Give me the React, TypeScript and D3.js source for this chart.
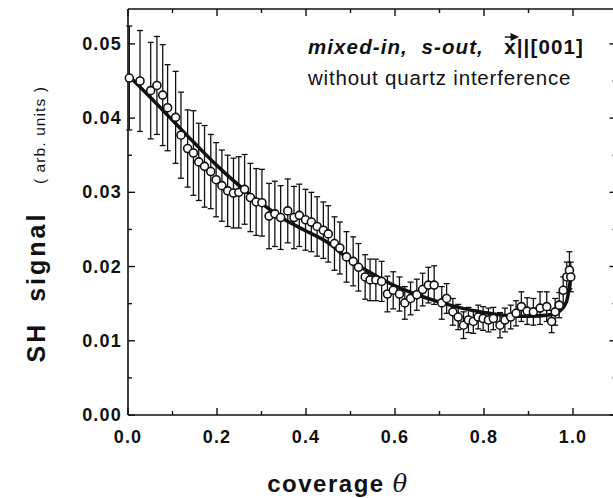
import React, { useLayoutEffect, useRef, useState } from "react";
import * as d3 from "d3";

// coverage θ of each measured point
const THETA = [
  0.003, 0.027, 0.051, 0.065, 0.078, 0.089, 0.107, 0.119, 0.134, 0.147,
  0.159, 0.172, 0.186, 0.198, 0.211, 0.224, 0.237, 0.249, 0.262, 0.275,
  0.288, 0.301, 0.317, 0.33, 0.343, 0.359, 0.373, 0.385, 0.399, 0.412,
  0.425, 0.439, 0.45, 0.464, 0.476, 0.491, 0.506, 0.518, 0.533, 0.544,
  0.557, 0.57, 0.583, 0.596, 0.61, 0.622, 0.635, 0.649, 0.662, 0.675,
  0.688, 0.705, 0.716, 0.73, 0.742, 0.754, 0.765, 0.776, 0.787, 0.798,
  0.81, 0.821, 0.836, 0.847, 0.86, 0.872, 0.884, 0.897, 0.911, 0.926,
  0.941, 0.952, 0.96, 0.969, 0.978, 0.986, 0.992, 0.995,
];
// SH signal (arb. units)
const SIGNAL = [
  0.0454, 0.045, 0.0437, 0.0444, 0.0431, 0.0414, 0.0401, 0.0377, 0.0359, 0.0353,
  0.0341, 0.0335, 0.0328, 0.0317, 0.0309, 0.0302, 0.0299, 0.03, 0.0304, 0.0293,
  0.0287, 0.0286, 0.0268, 0.0271, 0.0266, 0.0275, 0.0266, 0.0269, 0.0263, 0.026,
  0.0254, 0.0249, 0.0244, 0.0231, 0.0225, 0.0213, 0.0207, 0.0199, 0.0186, 0.0182,
  0.0182, 0.018, 0.0163, 0.0168, 0.0163, 0.0151, 0.0157, 0.0162, 0.0169, 0.0175,
  0.0175, 0.0151, 0.0157, 0.0139, 0.0132, 0.0121, 0.0128, 0.0126, 0.0132, 0.013,
  0.0128, 0.013, 0.0121, 0.0128, 0.0132, 0.0137, 0.0146, 0.014, 0.0139, 0.0144,
  0.0146, 0.0126, 0.0139, 0.0148, 0.0168, 0.0186, 0.0195, 0.0186,
];
// error bar half-lengths
const ERROR = [
  0.007, 0.0068, 0.0065, 0.0066, 0.0068, 0.0058, 0.0062, 0.0058, 0.0052, 0.0057,
  0.0052, 0.0055, 0.005, 0.005, 0.0048, 0.0048, 0.0047, 0.0048, 0.0047, 0.0046,
  0.0045, 0.0045, 0.0044, 0.0044, 0.0043, 0.0043, 0.0042, 0.0042, 0.0041, 0.004,
  0.004, 0.0038, 0.0038, 0.0036, 0.0035, 0.0034, 0.0033, 0.0032, 0.003, 0.0028,
  0.0028, 0.0027, 0.0024, 0.0025, 0.0023, 0.0022, 0.0022, 0.0021, 0.0022, 0.0024,
  0.0026, 0.0022, 0.002, 0.0018, 0.0017, 0.0018, 0.0017, 0.0016, 0.0016, 0.0016,
  0.0016, 0.0015, 0.0017, 0.0016, 0.0016, 0.0017, 0.002, 0.0018, 0.0018, 0.0022,
  0.002, 0.0015, 0.0018, 0.0017, 0.0018, 0.002, 0.0025, 0.002,
];
// fitted curve
const FIT_THETA = [0, 0.05, 0.1, 0.15, 0.2, 0.25, 0.3, 0.35, 0.4, 0.45, 0.5, 0.55, 0.6, 0.65, 0.7, 0.75, 0.8, 0.85, 0.9, 0.95, 0.97, 0.985, 0.995];
const FIT_SIGNAL = [0.0458, 0.0428, 0.0397, 0.0366, 0.0336, 0.0309, 0.0285, 0.0264, 0.0248, 0.0232, 0.0208, 0.019, 0.0174, 0.0162, 0.0152, 0.0144, 0.0138, 0.0134, 0.0133, 0.0135, 0.014, 0.0152, 0.0185];

const X_TICKS = [0, 0.2, 0.4, 0.6, 0.8, 1.0];
const X_TICK_LABELS = ["0.0", "0.2", "0.4", "0.6", "0.8", "1.0"];
const X_MINOR = [0.1, 0.3, 0.5, 0.7, 0.9];
const Y_TICKS = [0, 0.01, 0.02, 0.03, 0.04, 0.05];
const Y_TICK_LABELS = ["0.00", "0.01", "0.02", "0.03", "0.04", "0.05"];
const Y_MINOR = [0.005, 0.015, 0.025, 0.035, 0.045];

const W = 613;
const H = 498;
const L = 128;
const R = 617.5;
const T = 9;
const B = 415;
const FONT = "'Liberation Sans', Arial, Helvetica, sans-serif";

export default function App() {
  const x = d3.scaleLinear().domain([0, 1.1]).range([L, R]);
  const y = d3.scaleLinear().domain([0, 0.0547]).range([B, T]);
  const points = THETA.map((t, i) => ({ t, v: SIGNAL[i], e: ERROR[i] }));
  const fit = d3
    .line<number>()
    .x((_, i) => x(FIT_THETA[i]))
    .y((d) => y(d))
    .curve(d3.curveMonotoneX)(FIT_SIGNAL);

  const textRef = useRef<SVGTextElement>(null);
  const [arrow, setArrow] = useState<{ x0: number; x1: number; y: number } | null>(null);
  useLayoutEffect(() => {
    const el = textRef.current;
    if (!el) return;
    const idx = "mixed-in,  s-out,   ".length;
    try {
      const ext = el.getExtentOfChar(idx);
      setArrow({ x0: ext.x + 0.5, x1: ext.x + ext.width - 0.5, y: ext.y + 2 });
    } catch (e) {}
  }, []);

  const cap = 3;
  return (
    <svg width={W} height={H} style={{ position: "absolute", left: 0, top: 0, background: "#fff" }} fontFamily={FONT}>
      {/* frame */}
      <g stroke="#111" strokeWidth={1.6} fill="none">
        <line x1={L} y1={T} x2={L} y2={B} />
        <line x1={L} y1={B} x2={R} y2={B} />
        <line x1={L} y1={T} x2={R} y2={T} />
        <line x1={R} y1={T} x2={R} y2={B} />
      </g>
      {/* ticks */}
      <g stroke="#111" strokeWidth={1.4}>
        {X_TICKS.map((t) => (
          <g key={"xt" + t}>
            <line x1={x(t)} x2={x(t)} y1={B} y2={B - 7} />
            <line x1={x(t)} x2={x(t)} y1={T} y2={T + 7} />
          </g>
        ))}
        {X_MINOR.map((t) => (
          <g key={"xm" + t}>
            <line x1={x(t)} x2={x(t)} y1={B} y2={B - 4} />
            <line x1={x(t)} x2={x(t)} y1={T} y2={T + 4} />
          </g>
        ))}
        {Y_TICKS.map((v) => (
          <g key={"yt" + v}>
            <line x1={L} x2={L + 7} y1={y(v)} y2={y(v)} />
            <line x1={R} x2={R - 8} y1={y(v)} y2={y(v)} />
          </g>
        ))}
        {Y_MINOR.map((v) => (
          <g key={"ym" + v}>
            <line x1={L} x2={L + 4} y1={y(v)} y2={y(v)} />
            <line x1={R} x2={R - 5} y1={y(v)} y2={y(v)} />
          </g>
        ))}
      </g>
      {/* tick labels */}
      <g fontSize={18} fontWeight="bold" fill="#111" letterSpacing={1.2}>
        {X_TICKS.map((t, i) => (
          <text key={"xl" + t} x={x(t)} y={443} textAnchor="middle">
            {X_TICK_LABELS[i]}
          </text>
        ))}
        {Y_TICKS.map((v, i) => (
          <text key={"yl" + v} x={L - 6} y={y(v) + 6} textAnchor="end">
            {Y_TICK_LABELS[i]}
          </text>
        ))}
      </g>
      {/* axis titles */}
      <text x={338} y={492} textAnchor="middle" fontSize={24} fontWeight="bold" fill="#111" letterSpacing={1.5}>
        coverage <tspan fontStyle="italic" fontWeight="normal" fontFamily="'DejaVu Serif', serif">θ</tspan>
      </text>
      <text transform="translate(45,287) rotate(-90)" textAnchor="middle" fontSize={25} fontWeight="bold" fill="#111" letterSpacing={3} style={{ whiteSpace: "pre" }}>
        {"SH  signal"}
      </text>
      <text transform="translate(45,135) rotate(-90)" textAnchor="middle" fontSize={15.5} fill="#111" letterSpacing={1.1} style={{ whiteSpace: "pre" }}>
        {"( arb. units )"}
      </text>
      {/* annotations */}
      <text ref={textRef} x={308} y={54} fontSize={20.5} fontWeight="bold" fill="#111" letterSpacing={1.1} style={{ whiteSpace: "pre" }}>
        <tspan fontStyle="italic">{"mixed-in,  s-out,   "}</tspan>
        <tspan>x</tspan>
        <tspan>{"||[001]"}</tspan>
      </text>
      {arrow && (
        <g stroke="#111" strokeWidth={1.4} fill="#111">
          <line x1={arrow.x0} x2={arrow.x1 - 2} y1={arrow.y} y2={arrow.y} />
          <path d={`M${arrow.x1 + 1},${arrow.y} l-6,-2.8 l0,5.6 z`} />
        </g>
      )}
      <text x={308} y={85} fontSize={20.5} fill="#111" letterSpacing={0.8}>
        without quartz interference
      </text>
      {/* error bars */}
      <g stroke="#111" strokeWidth={1.3}>
        {points.map((p, i) => {
          const cx = x(p.t);
          const y0 = y(p.v - p.e);
          const y1 = y(p.v + p.e);
          return (
            <g key={"eb" + i}>
              <line x1={cx} x2={cx} y1={y0} y2={y1} />
              <line x1={cx - cap} x2={cx + cap} y1={y0} y2={y0} />
              <line x1={cx - cap} x2={cx + cap} y1={y1} y2={y1} />
            </g>
          );
        })}
      </g>
      {/* fit */}
      <path d={fit ?? ""} fill="none" stroke="#111" strokeWidth={3.5} />
      {/* points */}
      <g stroke="#111" strokeWidth={1.6} fill="#fff">
        {points.map((p, i) => (
          <circle key={"pt" + i} cx={x(p.t)} cy={y(p.v)} r={4} />
        ))}
      </g>
    </svg>
  );
}
